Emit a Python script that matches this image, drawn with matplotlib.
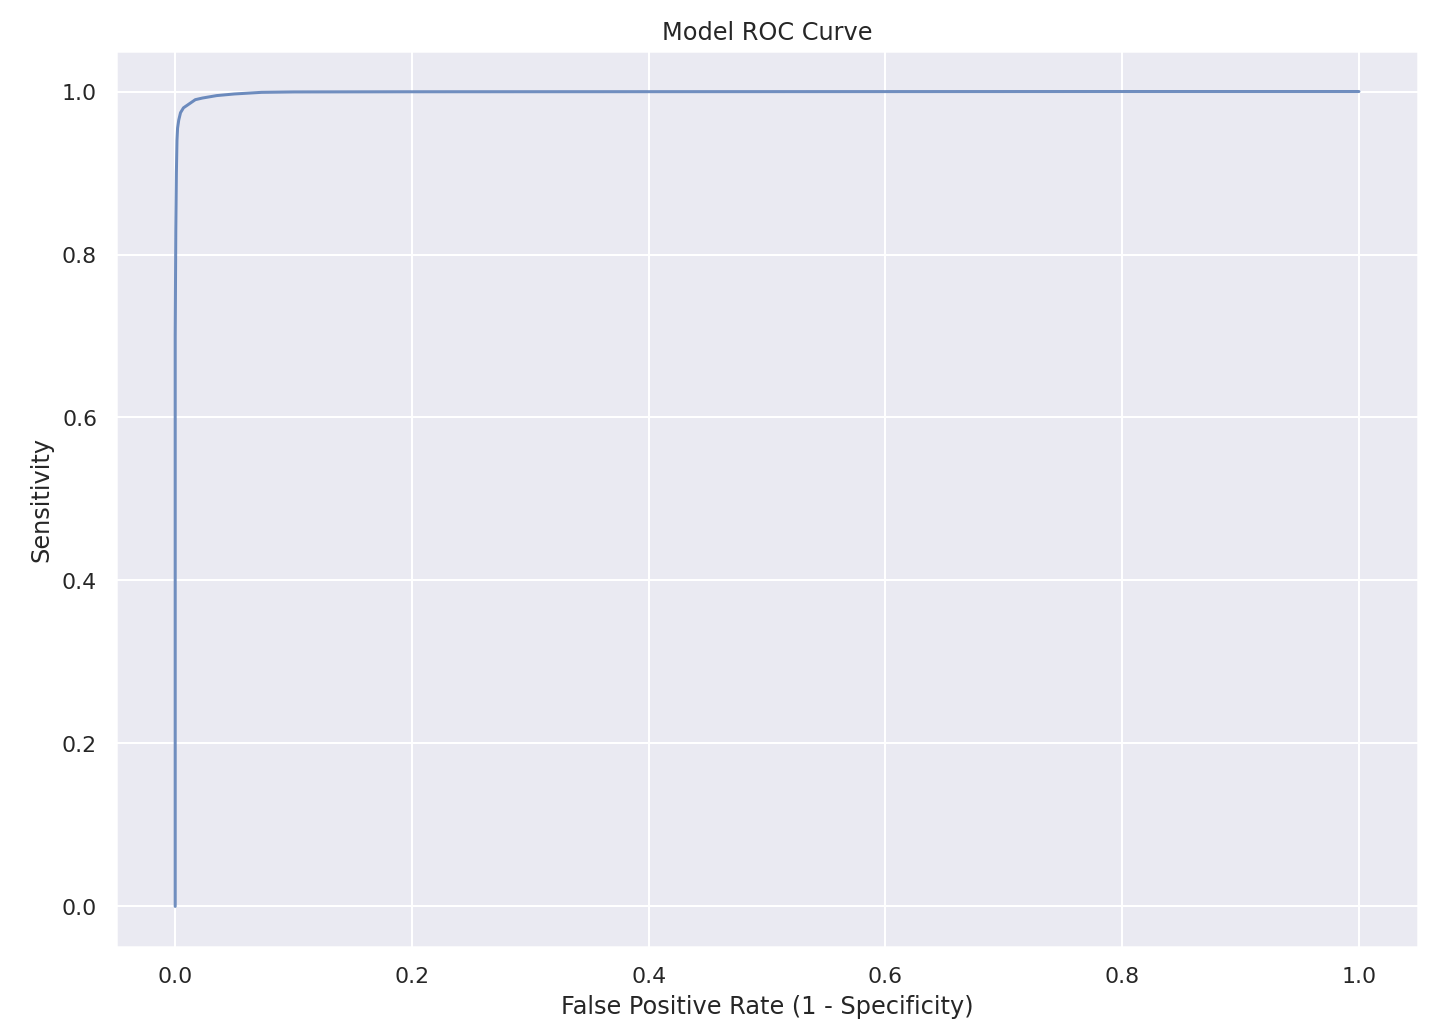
import numpy as np
import matplotlib
matplotlib.use("Agg")
import matplotlib.pyplot as plt
import seaborn as sns

sns.set_theme(style="darkgrid")

# ROC points
fpr = [0.0, 0.0, 0.0005, 0.001, 0.0015, 0.002, 0.003, 0.0045, 0.007, 0.012, 0.017,
       0.023, 0.035, 0.05, 0.073, 0.1, 0.2, 0.4, 0.6, 0.8, 1.0]
tpr = [0.0, 0.70, 0.83, 0.90, 0.94, 0.955, 0.965, 0.974, 0.980, 0.985, 0.990,
       0.992, 0.995, 0.997, 0.999, 0.9995, 0.9997, 0.9998, 0.9999, 1.0, 1.0]

fig, ax = plt.subplots(figsize=(10.07, 7.18), dpi=144)
ax.plot(fpr, tpr, color="#4c72b0", alpha=0.8, linewidth=1.5)
ax.set_title("Model ROC Curve")
ax.set_xlabel("False Positive Rate (1 - Specificity)")
ax.set_ylabel("Sensitivity")
plt.subplots_adjust(left=0.08, right=0.978, top=0.95, bottom=0.083)
fig.savefig("out.png")
